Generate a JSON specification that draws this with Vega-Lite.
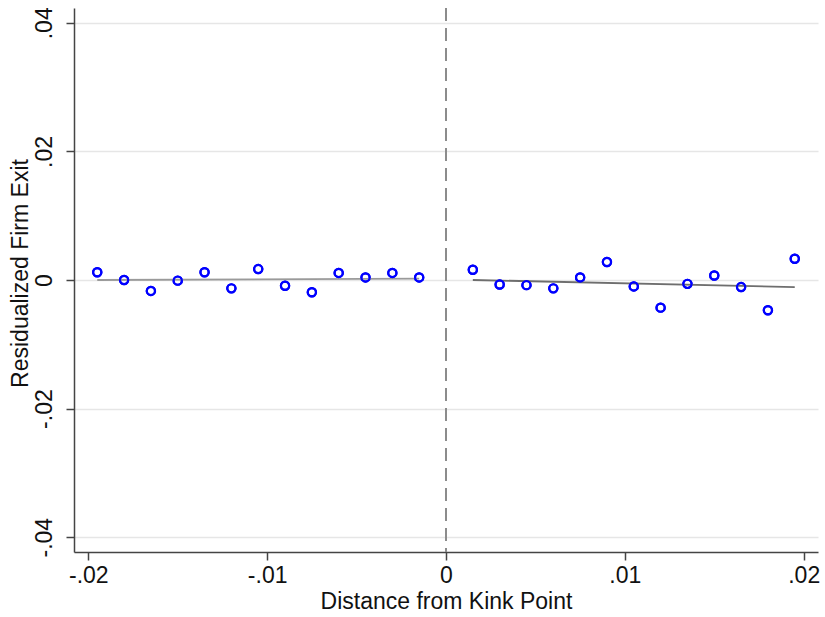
{
  "$schema": "https://vega.github.io/schema/vega-lite/v6.json",
  "width": 744,
  "height": 544,
  "autosize": {"type": "none"},
  "padding": {"left": 74, "top": 8, "right": 7, "bottom": 65},
  "background": "white",
  "config": {
    "view": {"stroke": null},
    "font": "Liberation Sans",
    "axis": {
      "labelFont": "Liberation Sans",
      "titleFont": "Liberation Sans",
      "labelFontSize": 23,
      "titleFontSize": 23,
      "labelColor": "#111",
      "titleColor": "#111",
      "titleFontWeight": "normal",
      "domainColor": "#444",
      "domainWidth": 1.5,
      "tickColor": "#444",
      "tickWidth": 1.5,
      "tickSize": 8
    }
  },
  "datasets": {
    "points": [
      {"x": -0.0195, "y": 0.0012},
      {"x": -0.018, "y": 0.0000},
      {"x": -0.0165, "y": -0.0017},
      {"x": -0.015, "y": -0.0001},
      {"x": -0.0135, "y": 0.0012},
      {"x": -0.012, "y": -0.0013},
      {"x": -0.0105, "y": 0.0017},
      {"x": -0.009, "y": -0.0009},
      {"x": -0.0075, "y": -0.0019},
      {"x": -0.006, "y": 0.0011},
      {"x": -0.0045, "y": 0.0004},
      {"x": -0.003, "y": 0.0011},
      {"x": -0.0015, "y": 0.0004},
      {"x": 0.0015, "y": 0.0016},
      {"x": 0.003, "y": -0.0007},
      {"x": 0.0045, "y": -0.0008},
      {"x": 0.006, "y": -0.0013},
      {"x": 0.0075, "y": 0.0004},
      {"x": 0.009, "y": 0.0028},
      {"x": 0.0105, "y": -0.001},
      {"x": 0.012, "y": -0.0043},
      {"x": 0.0135, "y": -0.0006},
      {"x": 0.015, "y": 0.0007},
      {"x": 0.0165, "y": -0.0011},
      {"x": 0.018, "y": -0.0047},
      {"x": 0.0195, "y": 0.0033}
    ],
    "fitLeft": [
      {"x": -0.0195, "y": 0.0000},
      {"x": -0.0015, "y": 0.0002}
    ],
    "fitRight": [
      {"x": 0.0015, "y": 0.0000},
      {"x": 0.0195, "y": -0.0011}
    ],
    "cut": [{"x": 0}]
  },
  "layer": [
    {
      "data": {"name": "points"},
      "mark": {"type": "point", "shape": "circle", "filled": false, "stroke": "#0000ff", "strokeWidth": 2.2, "size": 68, "opacity": 1},
      "encoding": {
        "x": {
          "field": "x",
          "type": "quantitative",
          "scale": {"domain": [-0.0208, 0.0208], "nice": false, "zero": false},
          "axis": {
            "title": "Distance from Kink Point",
            "values": [-0.02, -0.01, 0, 0.01, 0.02],
            "labelExpr": "datum.value == 0 ? '0' : (datum.value < 0 ? '-' : '') + replace(format(abs(datum.value), '.2f'), '0.', '.')",
            "grid": false,
            "labelPadding": 4,
            "titlePadding": 3
          }
        },
        "y": {
          "field": "y",
          "type": "quantitative",
          "scale": {"domain": [-0.0423, 0.0423], "nice": false, "zero": false},
          "axis": {
            "title": "Residualized Firm Exit",
            "values": [-0.04, -0.02, 0, 0.02, 0.04],
            "labelExpr": "datum.value == 0 ? '0' : (datum.value < 0 ? '-' : '') + replace(format(abs(datum.value), '.2f'), '0.', '.')",
            "labelAngle": -90,
            "labelAlign": "center",
            "labelBaseline": "bottom",
            "labelPadding": 10,
            "grid": true,
            "gridColor": "#e6e6e6",
            "gridWidth": 1.5,
            "titlePadding": 1,
            "titleY": 265
          }
        }
      }
    },
    {
      "data": {"name": "cut"},
      "mark": {"type": "rule", "stroke": "#8c8c8c", "strokeWidth": 2, "strokeDash": [13, 7]},
      "encoding": {
        "x": {"field": "x", "type": "quantitative"}
      }
    },
    {
      "data": {"name": "fitLeft"},
      "mark": {"type": "line", "stroke": "#9a9a9a", "strokeWidth": 1.8},
      "encoding": {
        "x": {"field": "x", "type": "quantitative"},
        "y": {"field": "y", "type": "quantitative"}
      }
    },
    {
      "data": {"name": "fitRight"},
      "mark": {"type": "line", "stroke": "#6e6e6e", "strokeWidth": 1.8},
      "encoding": {
        "x": {"field": "x", "type": "quantitative"},
        "y": {"field": "y", "type": "quantitative"}
      }
    },
    {
      "data": {"name": "points"},
      "mark": {"type": "point", "shape": "circle", "filled": false, "stroke": "#0000ff", "strokeWidth": 2.2, "size": 68, "opacity": 1},
      "encoding": {
        "x": {"field": "x", "type": "quantitative"},
        "y": {"field": "y", "type": "quantitative"}
      }
    }
  ]
}
